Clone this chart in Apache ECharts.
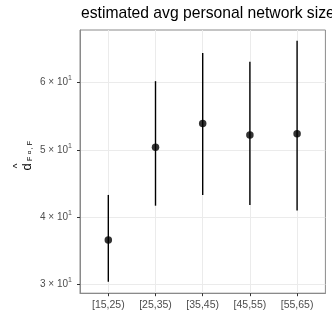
<!DOCTYPE html>
<html><head><meta charset="utf-8">
<script src="https://cdn.jsdelivr.net/npm/echarts@6/dist/echarts.min.js"></script>
<style>html,body{margin:0;padding:0;background:#fff}#c{width:332px;height:332px}</style>
</head><body><div id="c"></div>
<script>
const categories = ['[15,25)', '[25,35)', '[35,45)', '[45,55)', '[55,65)'];
const estimate = [36.6, 50.4, 53.9, 52.2, 52.4];
const lower = [30.4, 41.7, 43.3, 41.8, 41.0];
const upper = [43.3, 60.2, 64.4, 63.1, 66.2];
const yTicks = [30, 40, 50, 60];
const yMantissa = ['3', '4', '5', '6'];

const FONT = '"Liberation Sans", Arial, Helvetica, sans-serif';
const chart = echarts.init(document.getElementById('c'), null, {renderer: 'canvas'});
const xVals = categories.map((c, i) => i + 1);

function t(text, x, y, size) {
  return {type: 'text', x: x, y: y, style: {text: text, font: size + 'px ' + FONT, fill: '#000', verticalAlign: 'middle', align: 'left'}};
}

chart.setOption({
  animation: false,
  title: {
    text: 'estimated avg personal network size',
    left: 81, top: 6, padding: 0,
    textStyle: {fontFamily: FONT, fontSize: 15.7, fontWeight: 'normal', color: '#000'}
  },
  grid: {left: 80, right: 6.6, top: 30, bottom: 38.8, show: true, borderColor: '#8a8a8a', borderWidth: 1, backgroundColor: '#fff'},
  xAxis: {
    type: 'value', min: 0.4, max: 5.6,
    axisLine: {show: true, onZero: false, lineStyle: {color: '#8a8a8a', width: 1}},
    axisTick: {show: true, length: 3, lineStyle: {color: '#333'}, customValues: xVals},
    axisLabel: {customValues: xVals, formatter: v => categories[Math.round(v) - 1] || '',
      fontFamily: FONT, fontSize: 10.5, color: '#4d4d4d', margin: 6},
    splitLine: {show: true, lineStyle: {color: '#ebebeb', width: 1}}
  },
  yAxis: {
    type: 'value', min: 28.7, max: 67.8,
    axisLine: {show: true, lineStyle: {color: '#8a8a8a', width: 1}},
    axisTick: {show: true, length: 3, lineStyle: {color: '#333'}, customValues: yTicks},
    axisLabel: {
      customValues: yTicks,
      formatter: v => { const i = yTicks.indexOf(Math.round(v)); return i < 0 ? '' : '{a|' + yMantissa[i] + ' × 10}{s|1}'; },
      margin: 8,
      rich: {
        a: {fontFamily: FONT, fontSize: 10, color: '#4d4d4d'},
        s: {fontFamily: FONT, fontSize: 7, color: '#4d4d4d', padding: [0, 0, 8, 0]}
      }
    },
    splitLine: {show: true, lineStyle: {color: '#ebebeb', width: 1}}
  },
  graphic: [{
    type: 'group', x: 32, y: 170.5, rotation: Math.PI / 2,
    children: [
      t('d', 0, -4.3, 13),
      t('^', 2.2, -13.3, 10),
      t('F', 9.5, -1.8, 7),
      t('α', 16.3, -2.3, 6),
      t(', F', 21.3, -1.8, 7)
    ]
  }],
  series: [
    {
      type: 'custom',
      data: xVals.map((x, i) => [x, lower[i], upper[i]]),
      renderItem: (params, api) => {
        const a = api.coord([api.value(0), api.value(1)]);
        const b = api.coord([api.value(0), api.value(2)]);
        return {type: 'line', shape: {x1: a[0], y1: a[1], x2: b[0], y2: b[1]}, style: {stroke: '#000', lineWidth: 1.4}};
      },
      z: 2
    },
    {
      type: 'scatter',
      data: xVals.map((x, i) => [x, estimate[i]]),
      symbol: 'circle', symbolSize: 7.5,
      itemStyle: {color: '#000'},
      z: 3
    }
  ]
});
</script></body></html>
